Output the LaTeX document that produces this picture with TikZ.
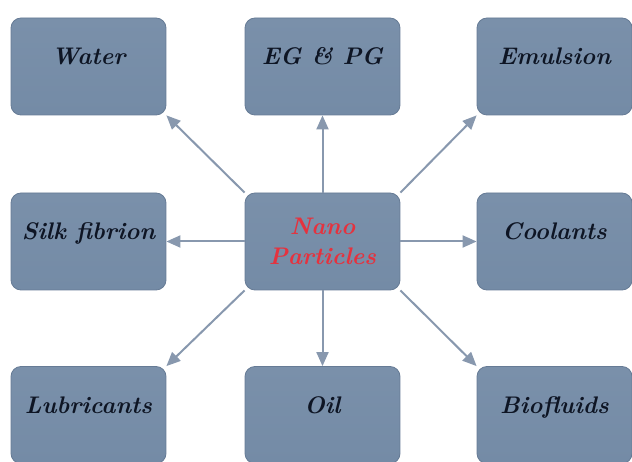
\documentclass[tikz,border=0pt]{standalone}
\usepackage{xcolor}
\usetikzlibrary{arrows.meta}

\definecolor{BoxTop}{HTML}{7A90AA}
\definecolor{BoxMid}{HTML}{A4B5C8}
\definecolor{BoxBot}{HTML}{748BA6}
\definecolor{BoxEdge}{HTML}{667B95}
\definecolor{LinkGrey}{HTML}{8898AE}
\definecolor{TextInk}{HTML}{0E1524}
\definecolor{NanoRed}{HTML}{E5323E}

\tikzset{
    box/.style={draw=BoxEdge, line width=0.8pt, rounded corners=10pt,
        top color=BoxTop, middle color=BoxMid, bottom color=BoxBot,
        minimum width=155pt, minimum height=97pt, inner sep=0pt,
        font=\fontsize{24}{30}\selectfont\bfseries\itshape},
    fluid/.style={box, text=TextInk, text height=17pt, text depth=20pt},
    link/.style={LinkGrey, line width=2pt, -{Triangle[length=14pt, width=12pt]}}
}

\begin{document}
\begin{tikzpicture}[x=1pt, y=1pt]
    \useasboundingbox (0,0) rectangle (632,461);
    % centre
    \node[box, text=NanoRed, align=center] (nano) at (322.5,219.5) {Nano\\Particles};
    % outer boxes
    \node[fluid] (water) at (88.5,394.5) {Water};
    \node[fluid] (egpg) at (322.5,394.5) {EG \& PG};
    \node[fluid] (emulsion) at (554.5,394.5) {Emulsion};
    \node[fluid] (silk) at (88.5,219.5) {Silk fibrion};
    \node[fluid] (coolants) at (554.5,219.5) {Coolants};
    \node[fluid] (lubricants) at (88.5,46) {Lubricants};
    \node[fluid] (oil) at (322.5,46) {Oil};
    \node[fluid] (biofluids) at (554.5,46) {Biofluids};
    % arrows out of the centre
    \foreach \n/\a/\b in {water/north west/south east, egpg/north/south,
        emulsion/north east/south west, silk/west/east, coolants/east/west,
        lubricants/south west/north east, oil/south/north,
        biofluids/south east/north west}
        \draw[link] (nano.\a) -- (\n.\b);
\end{tikzpicture}
\end{document}
